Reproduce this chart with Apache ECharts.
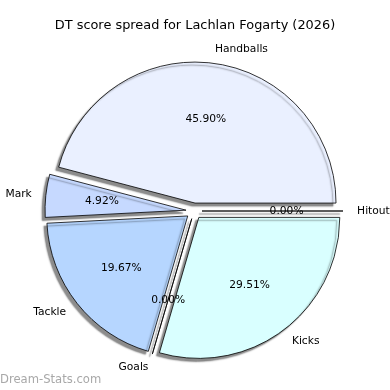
<!DOCTYPE html>
<html><head><meta charset="utf-8">
<script src="https://cdn.jsdelivr.net/npm/echarts@6/dist/echarts.min.js"></script>
<style>html,body{margin:0;padding:0;background:#fff}#c{width:390px;height:390px}</style>
</head><body><div id="c"></div>
<script>
const categories = ['Handballs', 'Mark', 'Tackle', 'Goals', 'Kicks', 'Hitout'];
const values = [28, 3, 12, 0, 18, 0];
const colors = ['#eaf0ff', '#c6d9ff', '#b6d6ff', '#c0e0ff', '#d9ffff', '#e0ecff'];
const titleText = 'DT score spread for Lachlan Fogarty (2026)';
const watermark = 'Dream-Stats.com';

const R = 141, CX = 194, CY = 211, OFF = 8;
const font = 'DejaVu Sans';
const chart = echarts.init(document.getElementById('c'), null, {renderer: 'canvas'});

const mainData = categories.map((n, i) => ({
  name: n, value: values[i], selected: true,
  itemStyle: {color: colors[i]}
}));
const pctData = categories.map((n, i) => ({
  name: n, value: values[i], selected: true
}));

chart.setOption({
  animation: false,
  backgroundColor: '#fff',
  title: {
    text: titleText, left: 'center', top: 14,
    textStyle: {fontFamily: font, fontSize: 12.9, fontWeight: 'normal', color: '#000'}
  },
  graphic: [{
    type: 'text', left: 0, top: 374,
    style: {text: watermark, fontFamily: font, fontSize: 11.6, fill: '#a8a8a8', fontWeight: 'normal'}
  }],
  series: [{
    type: 'pie', center: [CX, CY], radius: R,
    clockwise: false, startAngle: 0,
    selectedMode: 'multiple', selectedOffset: OFF,
    avoidLabelOverlap: false, silent: true,
    itemStyle: {borderColor: '#000', borderWidth: 0.8,
      shadowColor: 'rgba(0,0,0,0.45)', shadowBlur: 1.5, shadowOffsetX: -3, shadowOffsetY: 3},
    label: {show: true, position: 'outside', formatter: '{b}', distanceToLabelLine: 0,
      offset: [0, 0.5],
      fontFamily: font, fontSize: 10.7, color: '#000'},
    labelLine: {show: false, length: 0.1 * R, length2: 0},
    emphasis: {disabled: true},
    data: mainData
  }, {
    type: 'pie', center: [CX, CY], radius: 1.2 * R - 6,
    clockwise: false, startAngle: 0,
    selectedMode: 'multiple', selectedOffset: OFF,
    avoidLabelOverlap: false, silent: true,
    itemStyle: {color: 'rgba(0,0,0,0)', borderWidth: 0},
    label: {show: true, position: 'inside', offset: [0, 1],
      formatter: p => p.percent.toFixed(2) + '%',
      fontFamily: font, fontSize: 10.7, color: '#000'},
    labelLine: {show: false},
    emphasis: {disabled: true},
    data: pctData
  }]
});
</script></body></html>
